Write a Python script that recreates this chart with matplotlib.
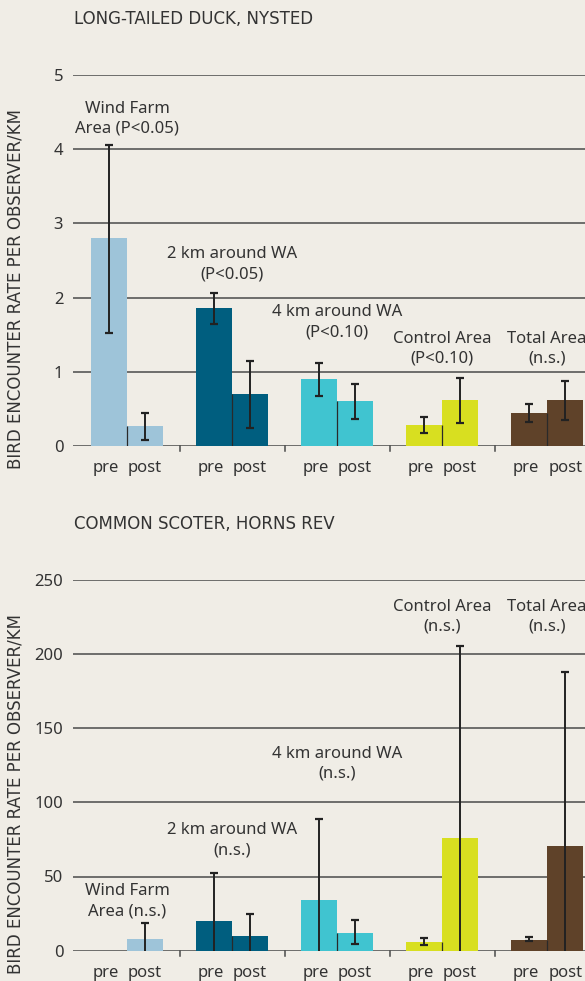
import matplotlib.pyplot as plt
import numpy as np

# areas and colours (same order in both panels)
areas = ["Wind Farm", "2 km around WA", "4 km around WA", "Control Area", "Total Area"]
colors = ["#9ec4d9", "#005e7f", "#40c4d0", "#d8df20", "#5f4229"]

# long-tailed duck, Nysted
duck_labels = ["Wind Farm\nArea (P<0.05)", "2 km around WA\n(P<0.05)", "4 km around WA\n(P<0.10)",
               "Control Area\n(P<0.10)", "Total Area\n(n.s.)"]
duck_pre = [2.80, 1.86, 0.90, 0.28, 0.45]
duck_post = [0.27, 0.70, 0.61, 0.62, 0.62]
duck_pre_lo = [1.52, 1.64, 0.68, 0.18, 0.33]
duck_pre_hi = [4.06, 2.06, 1.12, 0.39, 0.57]
duck_post_lo = [0.085, 0.24, 0.36, 0.31, 0.35]
duck_post_hi = [0.45, 1.15, 0.83, 0.92, 0.88]
duck_label_y = [4.41, 2.45, 1.67, 1.31, 1.31]

# common scoter, Horns Rev
scoter_labels = ["Wind Farm\nArea (n.s.)", "2 km around WA\n(n.s.)", "4 km around WA\n(n.s.)",
                 "Control Area\n(n.s.)", "Total Area\n(n.s.)"]
scoter_pre = [0, 20, 34.2, 6, 7.2]
scoter_post = [8, 10, 12, 76, 70.6]
scoter_pre_lo = [np.nan, 0, 0, 3.8, 6.5]
scoter_pre_hi = [np.nan, 52.6, 88.7, 8.6, 9.0]
scoter_post_lo = [0, 0, 4.3, 0, 0]
scoter_post_hi = [18.9, 24.5, 20.7, 205, 187.6]
scoter_label_y = [33.5, 74.6, 126, 225, 225]

BG = "#f0ede6"
TXT = "#333333"
GRID = "#4a4a4a"
W = 0.343
FS = 12


def draw_panel(ax, pre, post, pre_lo, pre_hi, post_lo, post_hi, labels, label_y, ymax, step):
    x = np.arange(len(areas))
    ax.set_facecolor(BG)
    for yv in np.arange(0, ymax + step / 2, step):
        ax.axhline(yv, color=GRID, lw=1.1, zorder=1)

    ax.bar(x - W / 2, pre, W, color=colors, zorder=2)
    ax.bar(x + W / 2, post, W, color=colors, zorder=2)
    # thin divider between pre and post up to the lower bar
    ax.vlines(x, 0, np.minimum(pre, post), color="#2a2a2a", lw=0.9, zorder=3)

    cap = 0.04
    for xs, lo, hi in [(x - W / 2, pre_lo, pre_hi), (x + W / 2, post_lo, post_hi)]:
        lo = np.array(lo, dtype=float)
        hi = np.array(hi, dtype=float)
        ok = ~np.isnan(hi)
        ax.vlines(xs[ok], lo[ok], hi[ok], color="#222222", lw=1.4, zorder=4)
        ax.hlines(hi[ok], xs[ok] - cap, xs[ok] + cap, color="#222222", lw=1.6, zorder=4)
        low = ok & (lo > 0)
        ax.hlines(lo[low], xs[low] - cap, xs[low] + cap, color="#222222", lw=1.6, zorder=4)

    # small ticks between groups
    for xt in x[:-1] + 0.5:
        ax.plot([xt, xt], [0, -ymax * 0.014], color=GRID, lw=1.1, clip_on=False, zorder=1)

    for i in x:
        ax.text(i, label_y[i], labels[i], ha="center", va="center", fontsize=FS,
                color=TXT, family="Noto Sans", linespacing=1.35)
        ax.text(i - W / 2 - 0.03, -ymax * 0.06, "pre", ha="center", va="center", fontsize=FS,
                color=TXT, family="Noto Sans")
        ax.text(i + W / 2, -ymax * 0.06, "post", ha="center", va="center", fontsize=FS,
                color=TXT, family="Noto Sans")

    ax.set_xlim(-0.514, 4.36)
    ax.set_ylim(0, ymax)
    ax.set_yticks(np.arange(0, ymax + step / 2, step))
    ax.set_yticklabels([f"{int(v)}" for v in np.arange(0, ymax + step / 2, step)],
                       fontsize=FS, color=TXT, family="Noto Sans")
    ax.tick_params(axis="y", length=0, pad=7)
    ax.set_xticks([])
    for s in ax.spines.values():
        s.set_visible(False)


fig = plt.figure(figsize=(5.85, 9.81), dpi=100, facecolor=BG)

ax1 = fig.add_axes([73 / 585, 1 - 446 / 981, 1 - 73 / 585, 371 / 981])
draw_panel(ax1, duck_pre, duck_post, duck_pre_lo, duck_pre_hi, duck_post_lo, duck_post_hi,
           duck_labels, duck_label_y, 5, 1)

ax2 = fig.add_axes([73 / 585, 1 - 950.7 / 981, 1 - 73 / 585, 371 / 981])
draw_panel(ax2, scoter_pre, scoter_post, scoter_pre_lo, scoter_pre_hi, scoter_post_lo, scoter_post_hi,
           scoter_labels, scoter_label_y, 250, 50)

fig.text(74 / 585, 1 - 19 / 981, "LONG-TAILED DUCK, NYSTED", ha="left", va="center",
         fontsize=12, color=TXT, family="DejaVu Sans")
fig.text(74 / 585, 1 - 524 / 981, "COMMON SCOTER, HORNS REV", ha="left", va="center",
         fontsize=12, color=TXT, family="DejaVu Sans")

ylab = "BIRD ENCOUNTER RATE PER OBSERVER/KM"
fig.text(16 / 585, 1 - 289 / 981, ylab, rotation=90, ha="center", va="center",
         fontsize=12, color=TXT, family="DejaVu Sans")
fig.text(16 / 585, 1 - 794 / 981, ylab, rotation=90, ha="center", va="center",
         fontsize=12, color=TXT, family="DejaVu Sans")

fig.savefig("out.png", dpi=100, facecolor=BG)
